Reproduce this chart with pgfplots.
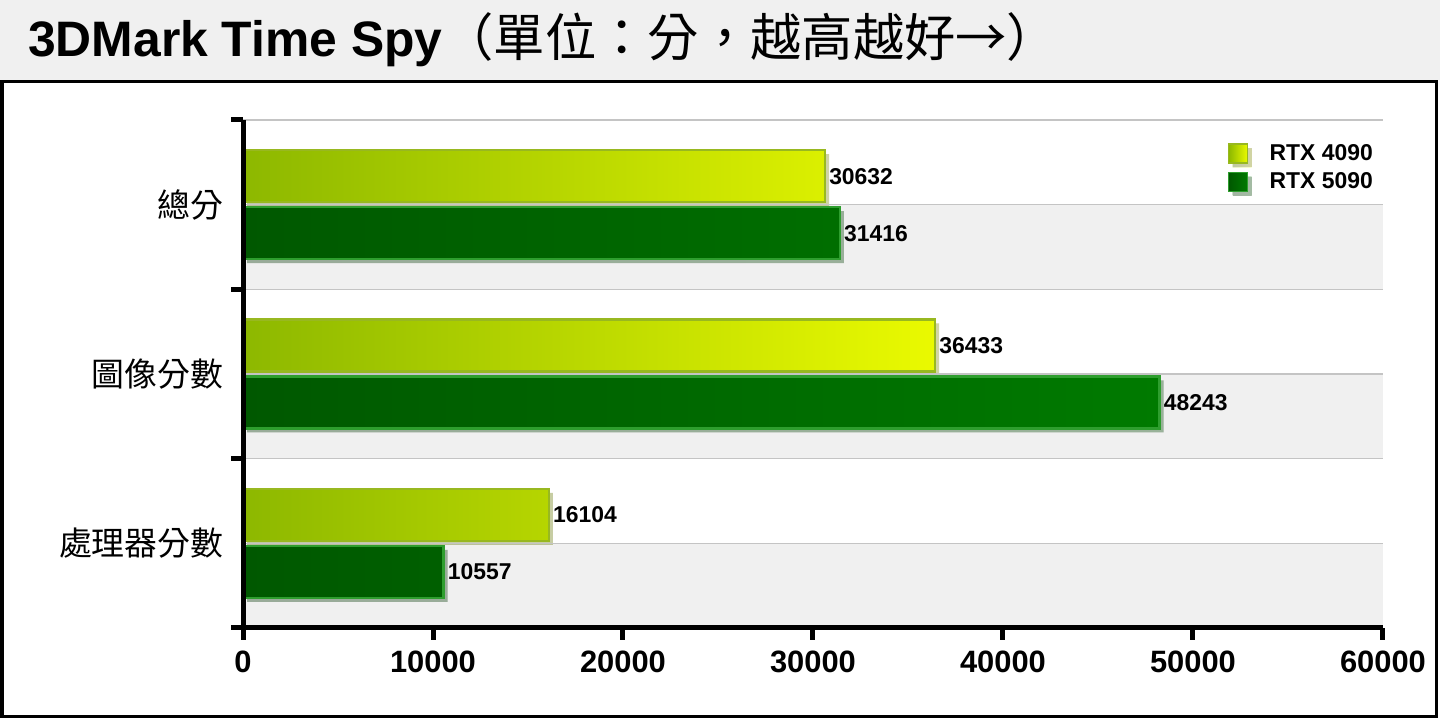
\documentclass[border=0pt]{standalone}
\usepackage{pgfplots}
\pgfplotsset{compat=1.18}
\usepackage{pgfplotstable}
\usepackage{fontspec}
\setmainfont{Liberation Sans}
\newfontfamily\cjk{Noto Sans CJK TC}

\definecolor{ylwL}{HTML}{8DB800}
\definecolor{ylwR}{HTML}{EAFA00}
\definecolor{ylwEdge}{HTML}{98B820}
\definecolor{grnL}{HTML}{005800}
\definecolor{grnR}{HTML}{007A00}
\definecolor{grnEdge}{HTML}{2E9E2E}
\definecolor{band}{HTML}{F0F0F0}
\definecolor{gridc}{HTML}{C4C4C4}

% y position: 2 = top category
\pgfplotstableread{
idx rtx4090 rtx5090
2 30632 31416
1 36433 48243
0 16104 10557
}\scores

\begin{document}
\begin{tikzpicture}[x=1bp,y=1bp]
\fill[white] (0,0) rectangle (1440,720);
\fill[band] (0,640) rectangle (1440,720);
\node[anchor=base west, inner sep=0] at (28,663)
  {\fontsize{50}{50}\selectfont\bfseries 3DMark Time Spy\mdseries\cjk\fontsize{51.5}{52}\selectfont（單位：分，越高越好→）};
\draw[black, line width=3bp] (2,3) rectangle (1436,638);
% light bands behind the lower half of each category (axis: y=-0.5 at 92bp, 508bp for 3 units)
\foreach \b in {92, 261.33, 430.67}
  \fill[band] (243,\b) rectangle (1383,\b+84.67);

\begin{axis}[
  at={(243bp,92bp)}, anchor=south west, scale only axis,
  width=1140bp, height=508bp,
  axis on top,
  xmin=0, xmax=60000, ymin=-0.5, ymax=2.5,
  axis x line*=bottom, axis y line*=left,
  axis line style={-, line width=5bp, black},
  xtick={0,10000,...,60000},
  ytick={0,1,2},
  yticklabels={處理器分數,圖像分數,總分},
  minor ytick={-0.5,0.5,1.5,2.5},
  tick align=outside,
  major tick length=12bp, minor tick length=12bp,
  xtick style={draw=black, line width=5bp},
  ytick style={draw=none},
  minor y tick style={draw=black, line width=5bp},
  ymajorgrids, yminorgrids,
  major grid style={draw=gridc, line width=1.5bp},
  minor grid style={draw=gridc, line width=1.5bp},
  scaled x ticks=false,
  /pgf/number format/fixed,
  /pgf/number format/1000 sep={},
  /pgf/number format/assume math mode=true,
  xticklabel style={font=\bfseries\fontsize{31}{31}\selectfont, yshift=-7bp},
  yticklabel style={font=\cjk\fontsize{33}{33}\selectfont, xshift=-4bp},
  xbar, bar width=52bp,
  nodes near coords,
  nodes near coords style={font=\bfseries\fontsize{23}{23}\selectfont, black, inner sep=3bp},
  legend style={at={(rel axis cs:0.9965,0.962)}, anchor=north east, draw=none, fill=none,
    font=\bfseries\fontsize{23}{23}\selectfont, row sep=5bp,
    nodes={inner sep=3bp}},
  legend cell align=left,
]
\addplot[bar shift=28.5bp, draw=ylwEdge, line width=2.5bp, left color=ylwL, right color=ylwR,
  preaction={draw=none, fill=black, fill opacity=0.2, transform canvas={shift={(4bp,-4bp)}}},
  legend image code/.code={
    \draw[draw=ylwEdge, line width=1.5bp, left color=ylwL, right color=ylwR] (-1bp,-10bp) rectangle (18bp,9bp);
    \pgfpathrectangle{\pgfpoint{-2bp}{-10bp}}{\pgfpoint{39bp}{20bp}}\pgfusepath{use as bounding box}}]
  table[x=rtx4090, y=idx] {\scores};
\addlegendentry{RTX 4090}

\addplot[bar shift=-28.5bp, draw=grnEdge, line width=2.5bp, left color=grnL, right color=grnR,
  preaction={draw=none, fill=black, fill opacity=0.2, transform canvas={shift={(4bp,-4bp)}}},
  legend image code/.code={
    \draw[draw=grnEdge, line width=1.5bp, left color=grnL, right color=grnR] (-1bp,-10bp) rectangle (18bp,9bp);
    \pgfpathrectangle{\pgfpoint{-2bp}{-10bp}}{\pgfpoint{39bp}{20bp}}\pgfusepath{use as bounding box}}]
  table[x=rtx5090, y=idx] {\scores};
\addlegendentry{RTX 5090}
\end{axis}
\end{tikzpicture}
\end{document}
